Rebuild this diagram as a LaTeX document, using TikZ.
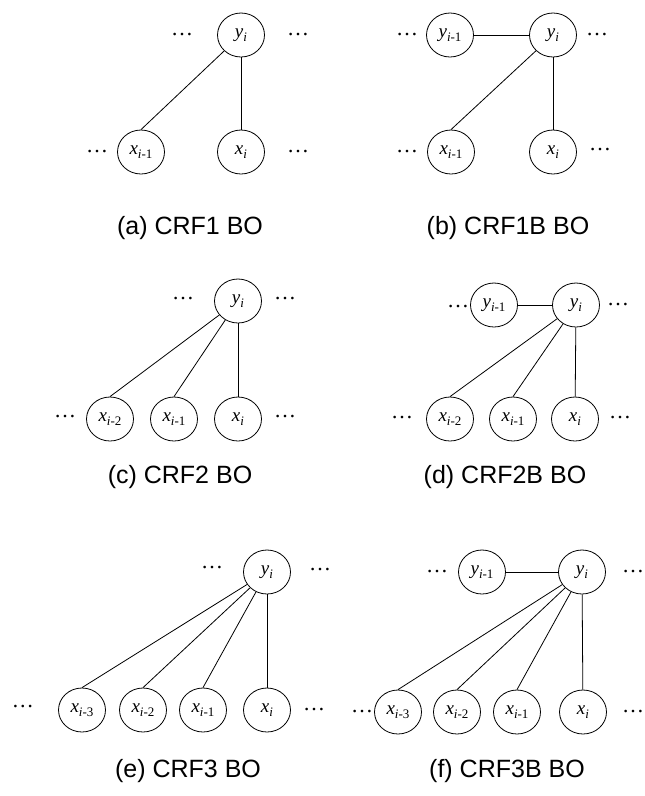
\documentclass[tikz,border=0pt]{standalone}
\usepackage{fontspec}
\setmainfont{Liberation Serif}
\setsansfont{Liberation Sans}
\usetikzlibrary{shapes.geometric}
\newcommand{\vr}[2]{\textit{#1}\raisebox{-0.45ex}{\fontsize{13}{13}\selectfont\textit{i}#2}}
\begin{document}
\begin{tikzpicture}[x=1pt,y=-1pt,
  vnode/.style={draw, ellipse, minimum width=47pt, minimum height=44pt, inner sep=0pt, line width=0.8pt, font=\fontsize{19}{19}\selectfont},
  edge/.style={line width=0.8pt},
  dd/.style={font=\fontsize{22}{22}\selectfont, inner sep=0pt},
  captxt/.style={font=\sffamily\fontsize{25}{25}\selectfont, inner sep=0pt}]
\useasboundingbox (0,0) rectangle (645,796);
% (a)
\node[dd] (a1) at (182,35) {…};
\node[vnode] (ayi) at (241,35) {\vr{y}{}};
\node[dd] (a2) at (298,35) {…};
\node[dd] (a3) at (97,152) {…};
\node[vnode] (axm) at (141,152) {\vr{x}{-1}};
\node[vnode] (axi) at (241,152) {\vr{x}{}};
\node[dd] (a4) at (298,152) {…};
\draw[edge] (ayi) -- (axm.north);
\draw[edge] (ayi) -- (axi);
\node[captxt] (la) at (190,228) {(a) CRF1 BO};
% (b)
\node[dd] (b1) at (407,35) {…};
\node[vnode] (bym) at (450,35) {\vr{y}{-1}};
\node[vnode] (byi) at (553,35) {\vr{y}{}};
\node[dd] (b2) at (597,35) {…};
\node[dd] (b3) at (407,152) {…};
\node[vnode] (bxm) at (451,152) {\vr{x}{-1}};
\node[vnode] (bxi) at (553,152) {\vr{x}{}};
\node[dd] (b4) at (600,150) {…};
\draw[edge] (bym) -- (byi);
\draw[edge] (byi) -- (bxm.north);
\draw[edge] (byi) -- (bxi);
\node[captxt] (lb) at (508,228) {(b) CRF1B BO};
% (c)
\node[dd] (c1) at (183,299) {…};
\node[vnode] (cyi) at (238,301) {\vr{y}{}};
\node[dd] (c2) at (285,299) {…};
\node[dd] (c3) at (65,417) {…};
\node[vnode] (cx2) at (110,419) {\vr{x}{-2}};
\node[vnode] (cx1) at (174,419) {\vr{x}{-1}};
\node[vnode] (cxi) at (238,419) {\vr{x}{}};
\node[dd] (c4) at (285,417) {…};
\draw[edge] (cyi) -- (cx2.north);
\draw[edge] (cyi) -- (cx1.north);
\draw[edge] (cyi) -- (cxi);
\node[captxt] (lc) at (180,477) {(c) CRF2 BO};
% (d)
\node[dd] (d1) at (458,307) {…};
\node[vnode] (dym) at (494,305) {\vr{y}{-1}};
\node[vnode] (dyi) at (576,305) {\vr{y}{}};
\node[dd] (d2) at (618,305) {…};
\node[dd] (d3) at (402,418) {…};
\node[vnode] (dx2) at (450,419) {\vr{x}{-2}};
\node[vnode] (dx1) at (513,419) {\vr{x}{-1}};
\node[vnode] (dxi) at (575,419) {\vr{x}{}};
\node[dd] (d4) at (620,418) {…};
\draw[edge] (dym) -- (dyi);
\draw[edge] (dyi) -- (dx2.north);
\draw[edge] (dyi) -- (dx1.north);
\draw[edge] (dyi) -- (dxi);
\node[captxt] (ld) at (505,477) {(d) CRF2B BO};
% (e)
\node[dd] (e1) at (212,568) {…};
\node[vnode] (eyi) at (267,572) {\vr{y}{}};
\node[dd] (e2) at (320,570) {…};
\node[dd] (e3) at (23,707) {…};
\node[vnode] (ex3) at (82,710) {\vr{x}{-3}};
\node[vnode] (ex2) at (143,710) {\vr{x}{-2}};
\node[vnode] (ex1) at (203,710) {\vr{x}{-1}};
\node[vnode] (exi) at (267,710) {\vr{x}{}};
\node[dd] (e4) at (314,710) {…};
\draw[edge] (eyi) -- (ex3.north);
\draw[edge] (eyi) -- (ex2.north);
\draw[edge] (eyi) -- (ex1.north);
\draw[edge] (eyi) -- (exi);
\node[captxt] (le) at (188,771) {(e) CRF3 BO};
% (f)
\node[dd] (f1) at (437,572) {…};
\node[vnode] (fym) at (482,572) {\vr{y}{-1}};
\node[vnode] (fyi) at (582,572) {\vr{y}{}};
\node[dd] (f2) at (633,572) {…};
\node[dd] (f3) at (362,712) {…};
\node[vnode] (fx3) at (398,712) {\vr{x}{-3}};
\node[vnode] (fx2) at (457,712) {\vr{x}{-2}};
\node[vnode] (fx1) at (517,712) {\vr{x}{-1}};
\node[vnode] (fxi) at (583,712) {\vr{x}{}};
\node[dd] (f4) at (633,712) {…};
\draw[edge] (fym) -- (fyi);
\draw[edge] (fyi) -- (fx3.north);
\draw[edge] (fyi) -- (fx2.north);
\draw[edge] (fyi) -- (fx1.north);
\draw[edge] (fyi) -- (fxi);
\node[captxt] (lf) at (507,771) {(f) CRF3B BO};
\end{tikzpicture}
\end{document}
